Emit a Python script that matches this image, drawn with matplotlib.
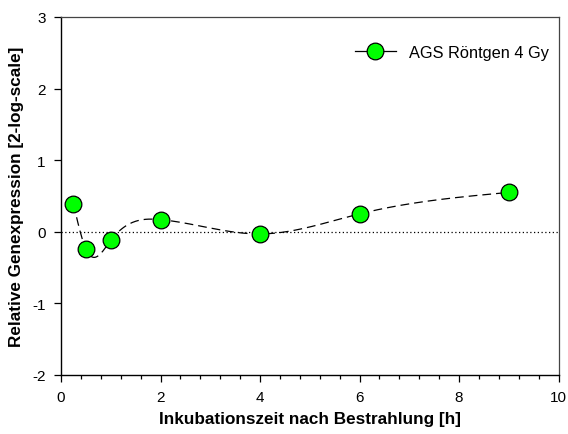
import numpy as np
import matplotlib.pyplot as plt
from matplotlib.ticker import MultipleLocator

plt.rcParams['font.family'] = ['Liberation Sans', 'DejaVu Sans']
plt.rcParams['axes.unicode_minus'] = False

zeit_h = [0.25, 0.5, 1, 2, 4, 6, 9]
expr_log2 = [0.39, -0.24, -0.12, 0.17, -0.03, 0.25, 0.55]
series_label = "AGS Röntgen 4 Gy"


def natural_spline(x, y, n=400):
    # natural cubic spline through the points, for a smooth connecting curve
    x = np.asarray(x, float)
    y = np.asarray(y, float)
    k = len(x)
    h = np.diff(x)
    A = np.zeros((k, k))
    b = np.zeros(k)
    A[0, 0] = A[-1, -1] = 1
    for i in range(1, k - 1):
        A[i, i - 1] = h[i - 1]
        A[i, i] = 2 * (h[i - 1] + h[i])
        A[i, i + 1] = h[i]
        b[i] = 3 * ((y[i + 1] - y[i]) / h[i] - (y[i] - y[i - 1]) / h[i - 1])
    c = np.linalg.solve(A, b)
    xs = np.linspace(x[0], x[-1], n)
    idx = np.clip(np.searchsorted(x, xs) - 1, 0, k - 2)
    dx = xs - x[idx]
    hi = h[idx]
    bb = (y[idx + 1] - y[idx]) / hi - hi * (2 * c[idx] + c[idx + 1]) / 3
    dd = (c[idx + 1] - c[idx]) / (3 * hi)
    ys = y[idx] + bb * dx + c[idx] * dx ** 2 + dd * dx ** 3
    return xs, ys


fig = plt.figure(figsize=(5.68, 4.35), dpi=100)
ax = fig.add_axes([61 / 568, 1 - 376 / 435, (558.5 - 61) / 568, (376 - 18) / 435])

ax.axhline(0, color='black', lw=0.9, ls=(0, (1, 2)), zorder=1)

xs, ys = natural_spline(zeit_h, expr_log2)
ax.plot(xs, ys, color='black', lw=0.9, ls=(0, (7, 4)), zorder=2)
ax.plot(zeit_h, expr_log2, ls='none', marker='o', ms=12, mfc='#00ff00',
        mec='black', mew=0.9, zorder=3)

# legend handle: short line through a marker
ax.plot([], [], color='black', lw=0.9, marker='o', ms=12, mfc='#00ff00',
        mec='black', mew=0.9, label=series_label)
ax.legend(loc='center right', bbox_to_anchor=((549 - 61) / 497.5, 0.902),
          frameon=False, fontsize=11.8, borderpad=0, borderaxespad=0,
          handlelength=2.5, handletextpad=0.8)

ax.set_xlim(0, 10)
ax.set_ylim(-2, 3)
ax.xaxis.set_major_locator(MultipleLocator(2))
ax.xaxis.set_minor_locator(MultipleLocator(0.4))
ax.yaxis.set_major_locator(MultipleLocator(1))
ax.tick_params(axis='both', which='major', direction='out', length=5,
               width=0.9, labelsize=11, pad=6)
ax.tick_params(axis='x', which='minor', direction='out', length=3, width=0.9)

for side in ['left', 'bottom']:
    ax.spines[side].set_color('black')
    ax.spines[side].set_linewidth(1.0)
for side in ['top', 'right']:
    ax.spines[side].set_color('#444444')
    ax.spines[side].set_linewidth(0.9)

ax.set_xlabel('Inkubationszeit nach Bestrahlung [h]', fontsize=12.3,
              fontweight='bold', labelpad=5)
ax.set_ylabel('Relative Genexpression [2-log-scale]', fontsize=12.3,
              fontweight='bold', labelpad=6)

fig.savefig('out.png', dpi=100)
